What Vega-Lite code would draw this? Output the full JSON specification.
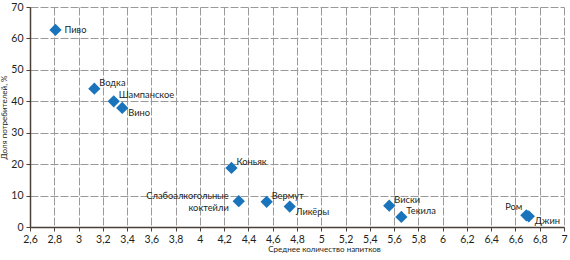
{
  "$schema": "https://vega.github.io/schema/vega-lite/v6.json",
  "width": 534,
  "height": 220,
  "autosize": "none",
  "padding": {"left": 30, "top": 7, "right": 6, "bottom": 33},
  "background": "white",
  "config": {
    "font": "Lato",
    "view": {"stroke": null},
    "axis": {
      "labelFont": "Lato",
      "titleFont": "Lato",
      "labelColor": "#231f20",
      "titleColor": "#231f20",
      "domainColor": "#4a4038",
      "domainWidth": 1.5,
      "tickColor": "#4a4038",
      "tickSize": 4,
      "labelFontSize": 10.5,
      "titleFontSize": 8,
      "titleFontWeight": "normal",
      "grid": true,
      "gridColor": "#9a9a9a",
      "gridDash": [8, 2],
      "gridWidth": 1
    }
  },
  "data": {
    "values": [
      {"name": "Пиво", "x": 2.81, "y": 62.7},
      {"name": "Водка", "x": 3.13, "y": 44},
      {"name": "Шампанское", "x": 3.29, "y": 40},
      {"name": "Вино", "x": 3.36, "y": 37.9},
      {"name": "Коньяк", "x": 4.26, "y": 18.8},
      {"name": "Слабоалкогольные\nкоктейли", "x": 4.32, "y": 8.2},
      {"name": "Вермут", "x": 4.55, "y": 8.0},
      {"name": "Ликёры", "x": 4.74, "y": 6.5},
      {"name": "Виски", "x": 5.56, "y": 6.8},
      {"name": "Текила", "x": 5.66, "y": 3.2},
      {"name": "Ром", "x": 6.69, "y": 3.7},
      {"name": "Джин", "x": 6.71, "y": 3.4}
    ]
  },
  "encoding": {
    "x": {
      "field": "x",
      "type": "quantitative",
      "scale": {"domain": [2.6, 7], "nice": false, "zero": false},
      "axis": {
        "values": [2.6, 2.8, 3, 3.2, 3.4, 3.6, 3.8, 4, 4.2, 4.4, 4.6, 4.8, 5, 5.2, 5.4, 5.6, 5.8, 6, 6.2, 6.4, 6.6, 6.8, 7],
        "labelExpr": "replace(format(datum.value, '.1~f'), '.', ',')",
        "title": "Среднее количество напитков",
        "titleX": 294,
        "titleY": 18,
        "labelPadding": 3,
        "labelFlush": false
      }
    },
    "y": {
      "field": "y",
      "type": "quantitative",
      "scale": {"domain": [0, 70], "nice": false},
      "axis": {
        "values": [0, 10, 20, 30, 40, 50, 60, 70],
        "title": "Доля потребителей, %",
        "titleX": -22,
        "labelPadding": 3,
        "labelFlush": false
      }
    }
  },
  "layer": [
    {
      "mark": {"type": "point", "shape": "diamond", "filled": true, "color": "#1a74bb", "opacity": 1, "size": 150}
    },
    {
      "transform": [{"filter": {"field": "name", "oneOf": ["Водка", "Шампанское", "Коньяк", "Вермут", "Виски", "Текила"]}}],
      "mark": {"type": "text", "align": "left", "baseline": "middle", "dx": 5, "dy": -6, "fontSize": 9.3, "color": "#231f20"},
      "encoding": {"text": {"field": "name"}}
    },
    {
      "transform": [{"filter": {"field": "name", "oneOf": ["Пиво"]}}],
      "mark": {"type": "text", "align": "left", "baseline": "middle", "dx": 9, "dy": 0, "fontSize": 9.3, "color": "#231f20"},
      "encoding": {"text": {"field": "name"}}
    },
    {
      "transform": [{"filter": {"field": "name", "oneOf": ["Вино", "Ликёры", "Джин"]}}],
      "mark": {"type": "text", "align": "left", "baseline": "middle", "dx": 6, "dy": 5, "fontSize": 9.3, "color": "#231f20"},
      "encoding": {"text": {"field": "name"}}
    },
    {
      "transform": [{"filter": {"field": "name", "oneOf": ["Ром"]}}],
      "mark": {"type": "text", "align": "right", "baseline": "middle", "dx": -4, "dy": -8, "fontSize": 9.3, "color": "#231f20"},
      "encoding": {"text": {"field": "name"}}
    },
    {
      "transform": [{"filter": {"field": "name", "oneOf": ["Слабоалкогольные\nкоктейли"]}}],
      "mark": {"type": "text", "align": "right", "baseline": "middle", "dx": -10, "dy": -5, "fontSize": 9.3, "lineHeight": 11.5, "lineBreak": "\n", "color": "#231f20"},
      "encoding": {"text": {"field": "name"}}
    }
  ]
}
